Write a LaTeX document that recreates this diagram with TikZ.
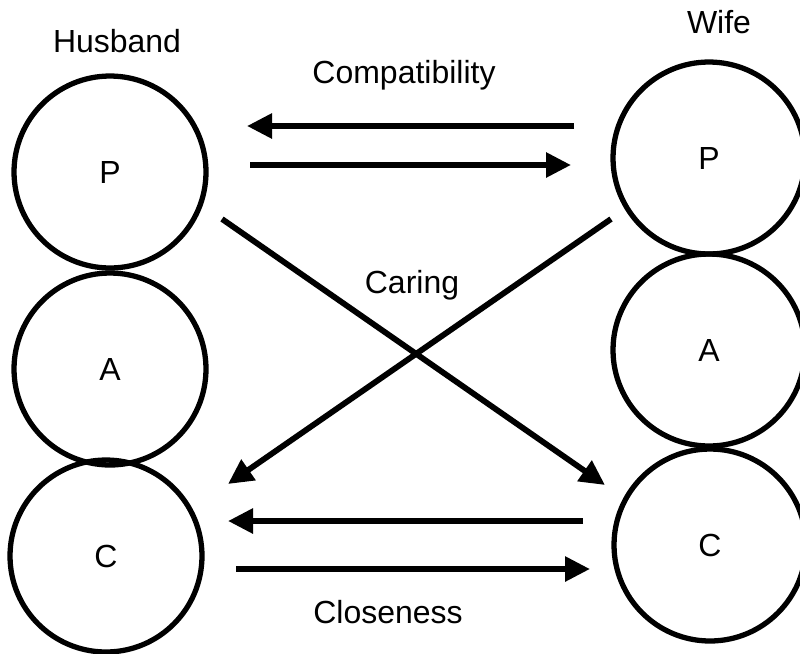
\documentclass[tikz,border=0pt]{standalone}
\usepackage{fontspec}
\setmainfont{Liberation Sans}
\usetikzlibrary{arrows.meta}

\begin{document}
\begin{tikzpicture}[
		x=0.02cm, y=-0.02cm,
		font=\fontsize{18.2}{22}\selectfont,
		>={Triangle[length=0.5cm,width=0.48cm]},
		part/.style={draw, circle, line width=3pt, minimum size=3.84cm, inner sep=0pt},
		title/.style={anchor=base},
		link/.style={->, line width=3.3pt}
		]
		\useasboundingbox (0,0) rectangle (800,653);
		
		% --------------------------------------------------
		% Husband
		% --------------------------------------------------
		\node[title] (husband) at (117,52) {Husband};
		\node[part] (hP) at (110,172) {P};
		\node[part] (hA) at (110,369) {A};
		\node[part] (hC) at (106,556) {C};
		
		% --------------------------------------------------
		% Wife
		% --------------------------------------------------
		\node[title] (wife) at (719,33) {Wife};
		\node[part] (wP) at (709,158) {P};
		\node[part] (wA) at (709,350) {A};
		\node[part] (wC) at (710,545) {C};
		
		% --------------------------------------------------
		% Labels
		% --------------------------------------------------
		\node[title] (compat) at (404,83) {Compatibility};
		\node[title] (caring) at (412,293) {Caring};
		\node[title] (close) at (388,623) {Closeness};
		
		% arrow ends
		\coordinate (wPtop) at (574,126);
		\coordinate (hPtop) at (247,126);
		\coordinate (hPmid) at (250,165);
		\coordinate (wPmid) at (571,165);
		\coordinate (hPlow) at (222,219);
		\coordinate (wClow) at (605,485);
		\coordinate (wPlow) at (611,219);
		\coordinate (hClow) at (228,484);
		\coordinate (wCtop) at (583,521);
		\coordinate (hCtop) at (228,521);
		\coordinate (hCmid) at (236,569);
		\coordinate (wCmid) at (590,569);
		
		% --------------------------------------------------
		% Connecting arrows
		% --------------------------------------------------
		\draw[link] (wPtop) -- (hPtop);
		\draw[link] (hPmid) -- (wPmid);
		\draw[link] (hPlow) -- (wClow);
		\draw[link] (wPlow) -- (hClow);
		\draw[link] (wCtop) -- (hCtop);
		\draw[link] (hCmid) -- (wCmid);
		
	\end{tikzpicture}
\end{document}
